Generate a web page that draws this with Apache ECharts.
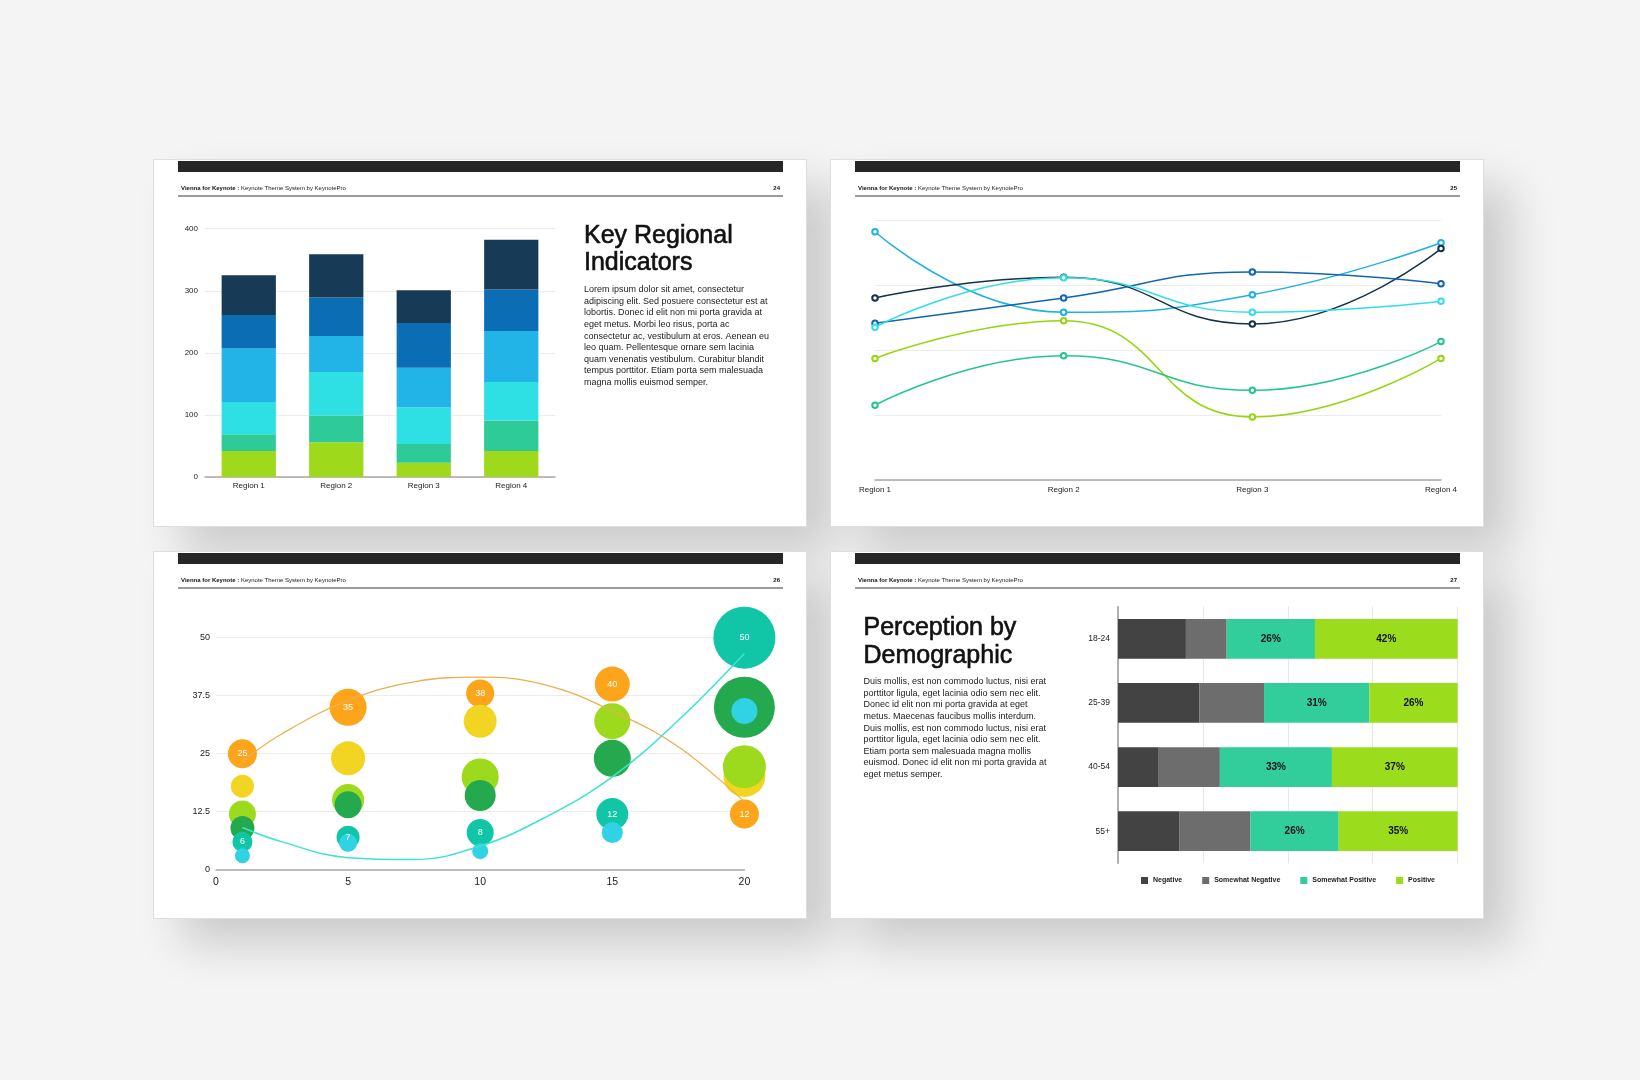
<!DOCTYPE html>
<html><head><meta charset="utf-8">
<script src="https://cdn.jsdelivr.net/npm/echarts@6/dist/echarts.min.js"></script>
<style>
html,body{margin:0;padding:0;background:#f4f4f4;width:1640px;height:1080px;overflow:hidden;}
.slide{position:absolute;width:652px;height:366px;background:#fff;box-shadow:28px 26px 42px rgba(0,0,0,0.17);outline:1px solid #dedede;}
#chart{position:absolute;left:0;top:0;width:1640px;height:1080px;}
</style></head>
<body>
<div class="slide" style="left:154px;top:160px"></div>
<div class="slide" style="left:831px;top:160px"></div>
<div class="slide" style="left:154px;top:552px"></div>
<div class="slide" style="left:831px;top:552px"></div>
<div id="chart"></div>
<script>
// ---------- Slide 24: stacked columns ----------
const regions = ['Region 1', 'Region 2', 'Region 3', 'Region 4'];
const barLime  = [42, 56, 23, 42];
const barGreen = [27, 43, 30, 49];
const barCyan  = [52, 70, 59, 62];
const barSky   = [86, 58, 64, 82];
const barBlue  = [54, 62, 72, 67];
const barNavy  = [64, 70, 53, 80];
const barTicks = [0, 100, 200, 300, 400];

// ---------- Slide 25: smooth lines ----------
const lineSky   = [382, 258, 285, 365];
const lineNavy  = [280, 312, 240, 356];
const lineBlue  = [241, 280, 320, 302];
const lineCyan  = [235, 311, 258, 275];
const lineLime  = [187, 245, 97, 187];
const lineGreen = [115, 191, 138, 213];

// ---------- Slide 26: bubbles ----------
const bubbleX = [1, 5, 10, 15, 20];
const orangeY = [25, 35, 38, 40, 12];     const orangeSize = [29, 37, 28, 35, 29];
const yellowY = [18, 24, 32, null, 20.2]; const yellowSize = [23, 34, 33, null, 42];
const limeY   = [12, 15, 20, 32, 22.2];   const limeSize   = [27, 32, 37, 36, 43];
const dkGreenY= [9, 14, 16, 24, 35];      const dkGreenSize= [24, 27, 31, 37, 61];
const tealY   = [6, 7, 8, 12, 50];        const tealSize   = [20, 23, 27, 32, 62];
const cyanY   = [3, 5.8, 4, 8, 34.2];     const cyanSize   = [15, 18, 16, 21, 26];
const trendX      = [1, 2.5, 5, 7.5, 10, 12.5, 15, 17.5, 20];
const orangeTrend = [23.4, 29.3, 36.5, 40.5, 41.5, 39.8, 34.2, 26.5, 14.6];
const tealTrend   = [9.1, 6.0, 2.6, 2.2, 5.1, 11.4, 20.0, 32.2, 46.6];

// ---------- Slide 27: 100% bars ----------
const ages = ['18-24', '25-39', '40-54', '55+'];
const negative     = [20, 24, 12, 18];
const somewhatNeg  = [12, 19, 18, 21];
const somewhatPos  = [26, 31, 33, 26];
const positive     = [42, 26, 37, 35];

const FONT = 'Liberation Sans, Arial, Helvetica, sans-serif';
const chart = echarts.init(document.getElementById('chart'), null, {renderer: 'canvas'});

// slide chrome
const slides = [[154,160,'24'],[831,160,'25'],[154,552,'26'],[831,552,'27']];
const graphics = [];
slides.forEach(([x,y,num]) => {
  graphics.push({type:'rect', shape:{x:x+24, y:y+1, width:605, height:11}, style:{fill:'#262626'}});
  graphics.push({type:'rect', shape:{x:x+24, y:y+35, width:605, height:2}, style:{fill:'#9c9c9c'}});
  graphics.push({type:'text', x:x+27, y:y+28.5, style:{
    text:'{b|Vienna for Keynote :} Keynote Theme System by KeynotePro',
    fontFamily:FONT, fontSize:6, fill:'#222', verticalAlign:'middle',
    rich:{b:{fontWeight:'bold', fontSize:6, fontFamily:FONT, fill:'#111'}}}});
  graphics.push({type:'text', x:x+626, y:y+28.5, style:{text:num, fontFamily:FONT, fontSize:6, fontWeight:'bold',
    fill:'#111', align:'right', verticalAlign:'middle'}});
});
graphics.push({type:'text', x:584, y:222, style:{text:'Key Regional\nIndicators', fontFamily:FONT, fontSize:25,
  lineHeight:27.5, fill:'#111', stroke:'#111', lineWidth:0.6, verticalAlign:'top'}});
graphics.push({type:'text', x:584, y:283.9, style:{text:[
  'Lorem ipsum dolor sit amet, consectetur',
  'adipiscing elit. Sed posuere consectetur est at',
  'lobortis. Donec id elit non mi porta gravida at',
  'eget metus. Morbi leo risus, porta ac',
  'consectetur ac, vestibulum at eros. Aenean eu',
  'leo quam. Pellentesque ornare sem lacinia',
  'quam venenatis vestibulum. Curabitur blandit',
  'tempus porttitor. Etiam porta sem malesuada',
  'magna mollis euismod semper.'].join('\n'),
  fontFamily:FONT, fontSize:9, lineHeight:11.6, fill:'#222', verticalAlign:'top'}});
graphics.push({type:'text', x:863.5, y:614.5, style:{text:'Perception by\nDemographic', fontFamily:FONT, fontSize:25,
  lineHeight:27.5, fill:'#111', stroke:'#111', lineWidth:0.6, verticalAlign:'top'}});
graphics.push({type:'text', x:863.5, y:675.9, style:{text:[
  'Duis mollis, est non commodo luctus, nisi erat',
  'porttitor ligula, eget lacinia odio sem nec elit.',
  'Donec id elit non mi porta gravida at eget',
  'metus. Maecenas faucibus mollis interdum.',
  'Duis mollis, est non commodo luctus, nisi erat',
  'porttitor ligula, eget lacinia odio sem nec elit.',
  'Etiam porta sem malesuada magna mollis',
  'euismod. Donec id elit non mi porta gravida at',
  'eget metus semper.'].join('\n'),
  fontFamily:FONT, fontSize:9, lineHeight:11.6, fill:'#222', verticalAlign:'top'}});

const axisLine = {show:true, lineStyle:{color:'#a8a8a8', width:1.5}};
const split = {show:true, lineStyle:{color:'#ececec', width:1}};

function bubble(name, ys, sizes, color, withLabel){
  const data = bubbleX.map((x,i)=> ys[i]==null ? null : [x, ys[i], sizes[i]]).filter(Boolean);
  return {type:'scatter', name, xAxisIndex:2, yAxisIndex:2, data, clip:false,
    symbolSize: v => v[2], itemStyle:{color, opacity:1},
    label:{show:!!withLabel, position:'inside', color:'#fff', fontSize:9, fontFamily:FONT,
      formatter: p => p.value[1]}};
}
function stackBar(name, data, color){
  return {type:'bar', name, stack:'r', data, xAxisIndex:0, yAxisIndex:0, barWidth:'62%', itemStyle:{color}};
}
function line(name, data, color){
  return {type:'line', name, data, xAxisIndex:1, yAxisIndex:1, smooth:0.5, symbol:'emptyCircle', symbolSize:5.5,
    itemStyle:{color, borderWidth:1.3}, lineStyle:{color, width:1.5}};
}
function hbar(name, data, color, withLabel){
  return {type:'bar', name, stack:'p', data, xAxisIndex:3, yAxisIndex:3, barWidth:'62%', itemStyle:{color},
    label:{show:!!withLabel, position:'inside', formatter:'{c}%', color:'#111', fontWeight:'bold', fontSize:10, fontFamily:FONT}};
}

chart.setOption({
  animation:false,
  backgroundColor:'transparent',
  textStyle:{fontFamily:FONT},
  graphic:{elements:graphics},
  legend:{data:['Negative','Somewhat Negative','Somewhat Positive','Positive'], left:1141, top:877, padding:0,
    itemWidth:7, itemHeight:7, itemGap:20, icon:'rect', textStyle:{fontSize:7, fontWeight:'bold', color:'#222', fontFamily:FONT}},
  grid:[
    {left:205, top:228.7, width:350, height:248.3},
    {left:875, top:220, width:566, height:260},
    {left:216, top:637.7, width:528.4, height:232},
    {left:1118, top:606.7, width:339.6, height:256.6}
  ],
  xAxis:[
    {gridIndex:0, type:'category', data:regions, axisLine, axisTick:{show:false},
      axisLabel:{fontSize:8, color:'#222', margin:5}},
    {gridIndex:1, type:'category', data:regions, boundaryGap:false, axisLine, axisTick:{show:false},
      axisLabel:{fontSize:8, color:'#222', margin:6}},
    {gridIndex:2, type:'value', min:0, max:20, interval:5, axisLine, axisTick:{show:false}, splitLine:{show:false},
      axisLabel:{fontSize:10.5, color:'#222', margin:7}},
    {gridIndex:3, type:'value', min:0, max:100, interval:25, axisLine:{show:false}, axisTick:{show:false},
      axisLabel:{show:false}, splitLine:{show:true, lineStyle:{color:'#e6e6e6'}}}
  ],
  yAxis:[
    {gridIndex:0, type:'value', min:barTicks[0], max:barTicks[barTicks.length-1], interval:100, axisLine:{show:false},
      axisTick:{show:false}, splitLine:split, axisLabel:{fontSize:8, color:'#222', margin:7}},
    {gridIndex:1, type:'value', min:0, max:400, interval:100, axisLine:{show:false}, axisTick:{show:false},
      splitLine:split, axisLabel:{show:false}},
    {gridIndex:2, type:'value', min:0, max:50, interval:12.5, axisLine:{show:false}, axisTick:{show:false},
      splitLine:split, axisLabel:{fontSize:9, color:'#222', margin:6}},
    {gridIndex:3, type:'category', data:ages, inverse:true, axisLine:{show:true, lineStyle:{color:'#9a9a9a', width:1.5}},
      axisTick:{show:false}, axisLabel:{fontSize:8.5, color:'#222', margin:8}}
  ],
  series:[
    stackBar('Indicator 1', barLime, '#9ed91c'),
    stackBar('Indicator 2', barGreen, '#2ecb98'),
    stackBar('Indicator 3', barCyan, '#2ee0e3'),
    stackBar('Indicator 4', barSky, '#22b4e6'),
    stackBar('Indicator 5', barBlue, '#0b6db4'),
    stackBar('Indicator 6', barNavy, '#173b57'),

    line('Line Sky', lineSky, '#1fb0e8'),
    line('Line Navy', lineNavy, '#17324b'),
    line('Line Blue', lineBlue, '#1166b1'),
    line('Line Cyan', lineCyan, '#2fdfe8'),
    line('Line Lime', lineLime, '#96d50f'),
    line('Line Green', lineGreen, '#22c68d'),

    bubble('Orange', orangeY, orangeSize, '#fca51b', true),
    bubble('Yellow', yellowY, yellowSize, '#f2d422'),
    bubble('Lime', limeY, limeSize, '#9dd91d'),
    bubble('Dark Green', dkGreenY, dkGreenSize, '#24a94f'),
    bubble('Teal', tealY, tealSize, '#10c6a6', true),
    bubble('Cyan', cyanY, cyanSize, '#2fd3e3'),
    {type:'line', name:'Orange trend', xAxisIndex:2, yAxisIndex:2, smooth:0.4, symbol:'none', z:5,
      data: trendX.map((x,i)=>[x, orangeTrend[i]]), lineStyle:{color:'#eab04d', width:1.3}},
    {type:'line', name:'Teal trend', xAxisIndex:2, yAxisIndex:2, smooth:0.4, symbol:'none', z:5,
      data: trendX.map((x,i)=>[x, tealTrend[i]]), lineStyle:{color:'#3ee3d0', width:1.5}},

    hbar('Negative', negative, '#434343'),
    hbar('Somewhat Negative', somewhatNeg, '#6d6d6d'),
    hbar('Somewhat Positive', somewhatPos, '#31ce9c', true),
    hbar('Positive', positive, '#9bdc1d', true)
  ]
});
</script>
</body></html>
